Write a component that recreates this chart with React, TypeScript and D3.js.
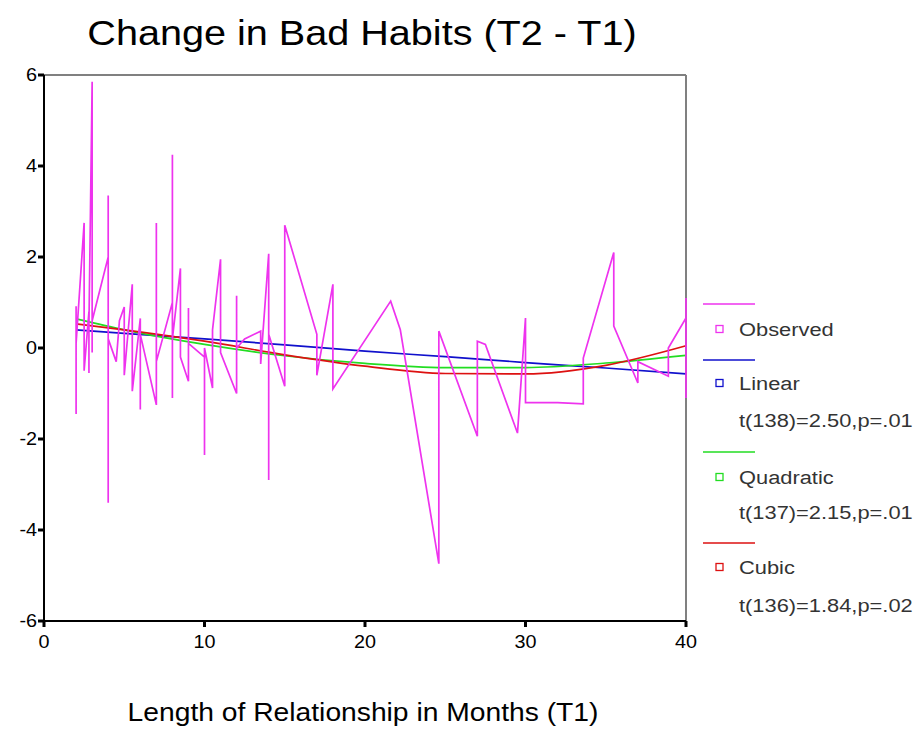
import React from "react";
import * as d3 from "d3";

const obsX = [
  2.0, 2.0, 2.0, 2.0, 2.5, 2.5, 2.5, 2.5, 2.8, 2.8, 2.8, 2.8, 3.0, 3.0, 3.0,
  4.0, 4.0, 4.0, 4.0, 4.5, 4.7, 5.0, 5.0, 5.5, 5.5, 6.0, 6.0, 6.0,
  7.0, 7.0, 7.0, 8.0, 8.0, 8.0, 8.0, 8.5, 8.5, 9.0, 9.0, 9.0,
  10.0, 10.0, 10.0, 10.5, 10.5, 11.0, 11.0, 12.0, 12.0, 12.0,
  12.5, 13.5, 13.5, 14.0, 14.0, 14.0, 15.0, 15.0, 17.0, 17.0, 18.0, 18.0,
  21.6, 22.2, 24.6, 24.6, 27.0, 27.0, 27.5, 29.5, 30.0, 30.0, 32.0, 33.6, 33.6,
  35.5, 35.5, 37.0, 37.0, 38.9, 38.9, 40.0, 40.0, 40.0,
];
const obsY = [
  0.2, 0.92, -1.45, 0.1, 2.75, -0.3, 0.6, -0.5, 0.8, -0.55, 0.3, 0.5, 5.85, -0.1, 0.6,
  2.0, 3.35, -3.4, 0.2, -0.3, 0.6, 0.9, -0.6, 1.4, -0.95, 0.65, -1.35, 0.3,
  -1.25, 2.75, -0.3, 1.0, 4.25, -1.1, 0.2, 1.75, -0.2, -0.73, 0.88, 0.1,
  -0.2, -2.35, 0.0, -0.88, 0.4, 1.95, -0.1, -1.0, 1.15, 0.0,
  0.2, 0.37, -0.35, 2.07, -2.9, 0.3, -0.84, 2.7, 0.3, -0.6, 1.4, -0.9,
  1.03, 0.4, -4.74, 0.37, -1.94, 0.15, 0.08, -1.87, 0.66, -1.2, -1.2, -1.23, -0.22,
  2.1, 0.48, -0.77, -0.3, -0.62, 0.0, 0.66, 1.1, -1.1,
];

const fitX = [2, 5, 10, 15, 20, 25, 30, 35, 40];
const linearY = [0.4, 0.32, 0.2, 0.07, -0.07, -0.19, -0.32, -0.44, -0.57];
const quadY = [0.64, 0.4, 0.08, -0.17, -0.34, -0.43, -0.43, -0.33, -0.16];
const cubicY = [0.53, 0.4, 0.15, -0.15, -0.4, -0.56, -0.57, -0.38, 0.05];

const xTicks = [0, 10, 20, 30, 40];
const yTicks = [6, 4, 2, 0, -2, -4, -6];

const legendItems = [
  { name: "Observed", stat: "", color: "#ee33ee" },
  { name: "Linear", stat: "t(138)=2.50,p=.01", color: "#1010cc" },
  { name: "Quadratic", stat: "t(137)=2.15,p=.01", color: "#22dd22" },
  { name: "Cubic", stat: "t(136)=1.84,p=.02", color: "#dd1111" },
];

const FONT = "'Liberation Sans', Arial, sans-serif";

function T(props: {
  x: number;
  y: number;
  size: number;
  sx?: number;
  anchor?: string;
  fill?: string;
  children: React.ReactNode;
}) {
  const { x, y, size, sx = 1.12, anchor = "start", fill = "#000", children } = props;
  return (
    <text
      transform={`translate(${x},${y}) scale(${sx},1)`}
      textAnchor={anchor}
      fontSize={size}
      fill={fill}
    >
      {children}
    </text>
  );
}

export default function App() {
  const W = 917, H = 729;
  const x = d3.scaleLinear().domain([0, 40]).range([44, 686]);
  const y = d3.scaleLinear().domain([-6, 6]).range([621, 75]);

  const obs = obsX.map((v, i) => [v, obsY[i]] as [number, number]);
  const obsLine = d3.line<[number, number]>().x((d) => x(d[0])).y((d) => y(d[1]));
  const fitLine = d3
    .line<[number, number]>()
    .x((d) => x(d[0]))
    .y((d) => y(d[1]))
    .curve(d3.curveMonotoneX);
  const fits = [
    { vals: linearY, color: legendItems[1].color },
    { vals: quadY, color: legendItems[2].color },
    { vals: cubicY, color: legendItems[3].color },
  ];

  const legendRows: { lineY: number; markY: number; statY: number | null }[] = [
    { lineY: 304, markY: 329, statY: null },
    { lineY: 360, markY: 383, statY: 420 },
    { lineY: 452, markY: 477, statY: 512 },
    { lineY: 543, markY: 567, statY: 605 },
  ];

  return (
    <svg
      width={W}
      height={H}
      style={{ position: "absolute", left: 0, top: 0, background: "#fff" }}
      fontFamily={FONT}
    >
      <rect x={0} y={0} width={W} height={H} fill="#fff" />
      <T x={362} y={45} size={36} sx={1.1} anchor="middle">
        Change in Bad Habits (T2 - T1)
      </T>

      {/* frame */}
      <line x1={x(0)} x2={x(40)} y1={y(6)} y2={y(6)} stroke="#808080" strokeWidth={2} />
      <line x1={x(40)} x2={x(40)} y1={y(6)} y2={y(-6)} stroke="#808080" strokeWidth={2} />

      {/* fits */}
      {fits.map((f, i) => (
        <path
          key={i}
          d={fitLine(fitX.map((v, j) => [v, f.vals[j]] as [number, number])) || ""}
          fill="none"
          stroke={f.color}
          strokeWidth={1.7}
        />
      ))}

      {/* observed */}
      <path d={obsLine(obs) || ""} fill="none" stroke="#ee33ee" strokeWidth={1.7} />

      {/* axes */}
      <line x1={x(0)} x2={x(0)} y1={y(6)} y2={y(-6)} stroke="#000" strokeWidth={2} />
      <line x1={x(0)} x2={x(40)} y1={y(-6)} y2={y(-6)} stroke="#000" strokeWidth={2} />
      {yTicks.map((t) => (
        <g key={"y" + t}>
          <line x1={x(0) - 6} x2={x(0)} y1={y(t)} y2={y(t)} stroke="#000" strokeWidth={3} />
          <T x={37} y={y(t) + 6} size={18} sx={1.1} anchor="end">
            {t}
          </T>
        </g>
      ))}
      {xTicks.map((t) => (
        <g key={"x" + t}>
          <line x1={x(t)} x2={x(t)} y1={y(-6)} y2={y(-6) + 6} stroke="#000" strokeWidth={3} />
          <T x={x(t)} y={648} size={18} sx={1.1} anchor="middle">
            {t}
          </T>
        </g>
      ))}

      <T x={363} y={721} size={25} sx={1.13} anchor="middle">
        Length of Relationship in Months (T1)
      </T>

      {/* legend */}
      {legendItems.map((it, i) => {
        const r = legendRows[i];
        return (
          <g key={it.name}>
            <line x1={703} x2={755} y1={r.lineY} y2={r.lineY} stroke={it.color} strokeWidth={1.7} />
            <rect x={716} y={r.markY - 3.5} width={7} height={7} fill="none" stroke={it.color} strokeWidth={1.3} />
            <T x={739} y={r.markY + 7} size={19} sx={1.15} fill="#333">
              {it.name}
            </T>
            {r.statY !== null && (
              <T x={739} y={r.statY + 7} size={19} sx={1.15} fill="#333">
                {it.stat}
              </T>
            )}
          </g>
        );
      })}
    </svg>
  );
}
